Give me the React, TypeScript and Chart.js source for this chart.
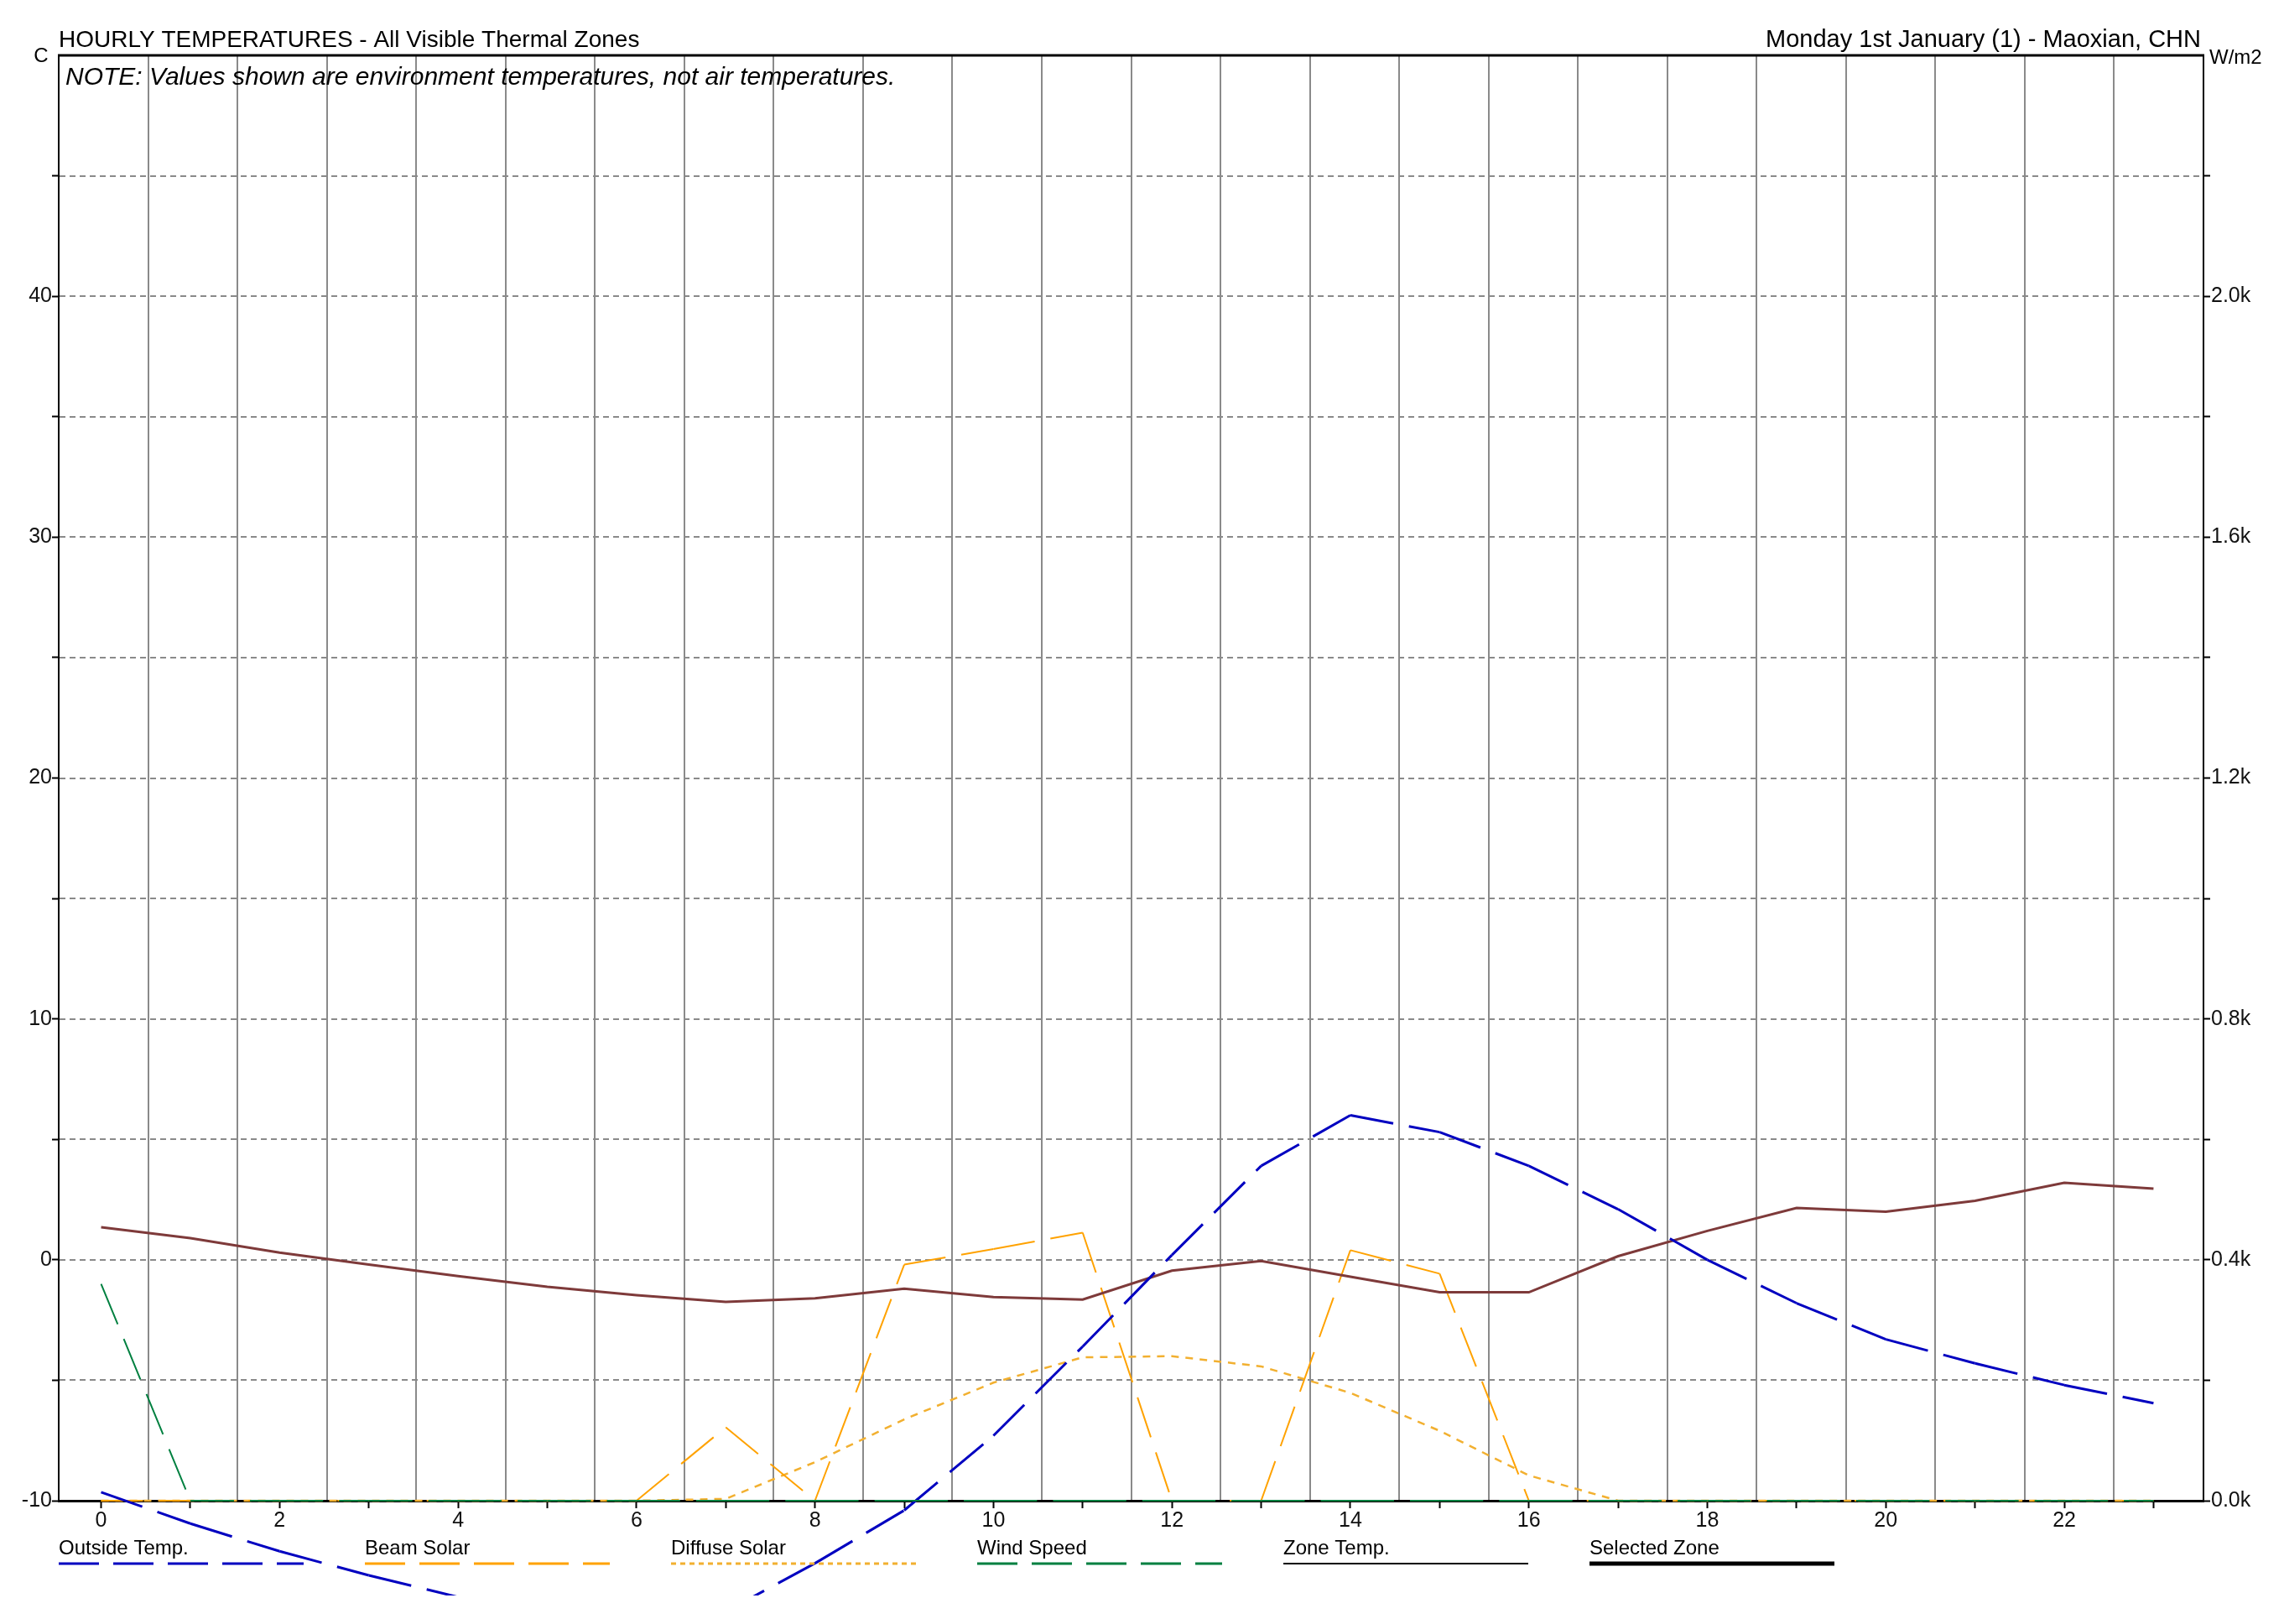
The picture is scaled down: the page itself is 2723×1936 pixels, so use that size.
import React, { useEffect, useRef } from "react";
import { Chart, registerables } from "chart.js";

Chart.register(...registerables);

const CANVAS_W = 2723;
const CANVAS_H = 1936;

// ---------- data ----------
const hours = [0, 1, 2, 3, 4, 5, 6, 7, 8, 9, 10, 11, 12, 13, 14, 15, 16, 17, 18, 19, 20, 21, 22, 23];
const outsideTemp = [-9.65, -10.95, -12.1, -13.1, -14.0, -14.5, -14.9, -14.6, -12.6, -10.4, -7.3, -3.6, 0.2, 3.9, 6.0, 5.3, 3.9, 2.1, 0.0, -1.8, -3.3, -4.3, -5.2, -5.95];
const zoneTemp = [1.35, 0.9, 0.3, -0.2, -0.68, -1.12, -1.47, -1.75, -1.6, -1.2, -1.55, -1.65, -0.45, -0.05, -0.7, -1.35, -1.35, 0.15, 1.2, 2.15, 2.0, 2.45, 3.2, 2.95];
const beamSolar = [0, 0, 0, 0, 0, 0, 0, 122, 0, 392, 418, 445, 0, 0, 416, 377, 0, 0, 0, 0, 0, 0, 0, 0];
const diffuseSolar = [0, 0, 0, 0, 0, 0, 0, 3, 64, 135, 196, 238, 240, 223, 179, 116, 42, 0, 0, 0, 0, 0, 0, 0];
const windSpeed = [9.0, 0, 0, 0, 0, 0, 0, 0, 0, 0, 0, 0, 0, 0, 0, 0, 0, 0, 0, 0, 0, 0, 0, 0];

// ---------- ticks / labels ----------
const xLabelValues = [0, 2, 4, 6, 8, 10, 12, 14, 16, 18, 20, 22];
const tempTickValues = [-10, -5, 0, 5, 10, 15, 20, 25, 30, 35, 40, 45];
const tempLabelValues = [-10, 0, 10, 20, 30, 40];
const tempGridValues = [-5, 0, 5, 10, 15, 20, 25, 30, 35, 40, 45];
const solarTickValues = [0, 200, 400, 600, 800, 1000, 1200, 1400, 1600, 1800, 2000, 2200];
const solarLabelValues = [0, 400, 800, 1200, 1600, 2000];
const solarLabelTexts = ["0.0k", "0.4k", "0.8k", "1.2k", "1.6k", "2.0k"];

const titleText = "HOURLY TEMPERATURES - All Visible Thermal Zones";
const subtitleText = "Monday 1st January (1) - Maoxian, CHN";
const noteText = "NOTE: Values shown are environment temperatures, not air temperatures.";
const leftUnit = "C";
const rightUnit = "W/m2";
const legendLabels = ["Outside Temp.", "Beam Solar", "Diffuse Solar", "Wind Speed", "Zone Temp.", "Selected Zone"];

// ---------- styles ----------
const FONT = "'Liberation Sans', Arial, Helvetica, sans-serif";
const C_OUT = "#0000C0";
const C_ZONE = "#7E3A3A";
const C_BEAM = "#FFA200";
const C_DIFF = "#F2B030";
const C_WIND = "#008040";
const legendStyles = [
  { color: C_OUT, dash: [48, 17], width: 3 },
  { color: C_BEAM, dash: [48, 17], width: 3 },
  { color: C_DIFF, dash: [6, 5], width: 3 },
  { color: C_WIND, dash: [48, 17], width: 3 },
  { color: "#000000", dash: [], width: 2 },
  { color: "#000000", dash: [], width: 5 },
];

const toXY = (arr: number[]) => hours.map((h, i) => ({ x: h, y: arr[i] }));
const restartDash = { borderDashOffset: (c: any) => (c.p0DataIndex % 2) * 0.001 };
const CLIP = { left: 4, top: 4, right: 4, bottom: 113 };

const decorPlugin = {
  id: "decor",
  beforeDatasetsDraw(chart: any) {
    const { ctx, chartArea: a, scales } = chart;
    ctx.save();
    // vertical column lines
    ctx.setLineDash([]);
    ctx.strokeStyle = "#8a8a8a";
    ctx.lineWidth = 2;
    for (let k = 1; k < 24; k++) {
      const x = Math.round(a.left + (k * (a.right - a.left)) / 24);
      ctx.beginPath();
      ctx.moveTo(x, a.top + 1);
      ctx.lineTo(x, a.bottom - 1);
      ctx.stroke();
    }
    // horizontal dashed lines
    ctx.strokeStyle = "#8a8a8a";
    ctx.lineWidth = 2;
    ctx.setLineDash([7, 5]);
    for (const v of tempGridValues) {
      const y = Math.round(scales.y.getPixelForValue(v));
      ctx.beginPath();
      ctx.moveTo(a.left + 1, y);
      ctx.lineTo(a.right - 1, y);
      ctx.stroke();
    }
    // top border
    ctx.setLineDash([]);
    ctx.strokeStyle = "#000";
    ctx.lineWidth = 3;
    ctx.beginPath();
    ctx.moveTo(a.left - 1, a.top);
    ctx.lineTo(a.right + 1, a.top);
    ctx.stroke();
    ctx.restore();
  },
  afterDraw(chart: any) {
    const { ctx, chartArea: a } = chart;
    ctx.save();
    ctx.fillStyle = "#000";
    ctx.textBaseline = "alphabetic";
    ctx.font = `28px ${FONT}`;
    ctx.textAlign = "left";
    ctx.fillText(titleText, a.left, 56);
    ctx.font = `29px ${FONT}`;
    ctx.textAlign = "right";
    ctx.fillText(subtitleText, a.right - 3, 56);
    ctx.font = `24px ${FONT}`;
    ctx.textAlign = "center";
    ctx.fillText(leftUnit, 49, 74);
    ctx.textAlign = "left";
    ctx.fillText(rightUnit, a.right + 7, 76);
    ctx.font = `italic 30px ${FONT}`;
    ctx.fillText(noteText, a.left + 8, 101);
    // legend
    const step = 365;
    const len = 292;
    legendLabels.forEach((lab, i) => {
      const x0 = a.left + i * step;
      ctx.font = `24px ${FONT}`;
      ctx.fillStyle = "#000";
      ctx.fillText(lab, x0, 1853);
      const st = legendStyles[i];
      ctx.strokeStyle = st.color;
      ctx.lineWidth = st.width;
      ctx.setLineDash(st.dash);
      ctx.beginPath();
      ctx.moveTo(x0, 1864);
      ctx.lineTo(x0 + len, 1864);
      ctx.stroke();
    });
    ctx.restore();
  },
};

export default function App() {
  const ref = useRef<HTMLCanvasElement | null>(null);
  useEffect(() => {
    if (!ref.current) return;
    const chart = new Chart(ref.current, {
      type: "line",
      data: {
        datasets: [
          {
            label: "Wind Speed",
            data: toXY(windSpeed),
            yAxisID: "yW",
            borderColor: C_WIND,
            borderWidth: 2,
            borderDash: [52, 19],
            segment: restartDash,
            pointRadius: 0,
            clip: CLIP,
          },
          {
            label: "Outside Temp.",
            data: toXY(outsideTemp),
            yAxisID: "y",
            borderColor: C_OUT,
            borderWidth: 3,
            borderDash: [52, 19],
            segment: restartDash,
            pointRadius: 0,
            clip: CLIP,
          },
          {
            label: "Zone Temp.",
            data: toXY(zoneTemp),
            yAxisID: "y",
            borderColor: C_ZONE,
            borderWidth: 3,
            pointRadius: 0,
            clip: CLIP,
          },
          {
            label: "Beam Solar",
            data: toXY(beamSolar),
            yAxisID: "yR",
            borderColor: C_BEAM,
            borderWidth: 2,
            borderDash: [50, 19],
            segment: restartDash,
            pointRadius: 0,
            clip: CLIP,
          },
          {
            label: "Diffuse Solar",
            data: toXY(diffuseSolar),
            yAxisID: "yR",
            borderColor: C_DIFF,
            borderWidth: 2.5,
            borderDash: [9, 8],
            pointRadius: 0,
            clip: CLIP,
          },
        ],
      },
      options: {
        responsive: false,
        animation: false,
        devicePixelRatio: 1,
        layout: { padding: { top: 66, left: 0, right: 0, bottom: 0 } },
        plugins: { legend: { display: false }, tooltip: { enabled: false }, title: { display: false } },
        elements: { line: { tension: 0, borderCapStyle: "butt", borderJoinStyle: "miter" } },
        scales: {
          x: {
            type: "linear",
            position: "bottom",
            min: -0.475,
            max: 23.56,
            afterBuildTicks: (s: any) => {
              s.ticks = hours.map((v) => ({ value: v }));
            },
            afterFit: (s: any) => {
              s.height = CANVAS_H - 1789;
            },
            ticks: {
              autoSkip: false,
              maxRotation: 0,
              padding: 0,
              color: "#111",
              font: { family: FONT, size: 25 },
              callback: (v: any) => (xLabelValues.includes(Number(v)) ? String(v) : ""),
            },
            grid: { drawOnChartArea: false, drawTicks: true, tickLength: 9, tickColor: "#000", tickWidth: 2 },
            border: { display: true, color: "#000", width: 3 },
          },
          y: {
            type: "linear",
            position: "left",
            min: -10,
            max: 50,
            afterBuildTicks: (s: any) => {
              s.ticks = tempTickValues.map((v) => ({ value: v }));
            },
            afterFit: (s: any) => {
              s.width = 70;
            },
            ticks: {
              autoSkip: false,
              padding: 0,
              color: "#111",
              font: { family: FONT, size: 25 },
              callback: (v: any) => (tempLabelValues.includes(Number(v)) ? String(v) : ""),
            },
            grid: { drawOnChartArea: false, drawTicks: true, tickLength: 8, tickColor: "#000", tickWidth: 2 },
            border: { display: true, color: "#000", width: 2 },
          },
          yR: {
            type: "linear",
            position: "right",
            min: 0,
            max: 2400,
            afterBuildTicks: (s: any) => {
              s.ticks = solarTickValues.map((v) => ({ value: v }));
            },
            afterFit: (s: any) => {
              s.width = CANVAS_W - 2627;
            },
            ticks: {
              autoSkip: false,
              padding: 1,
              color: "#111",
              font: { family: FONT, size: 25 },
              callback: (v: any) => {
                const idx = solarLabelValues.indexOf(Number(v));
                return idx >= 0 ? solarLabelTexts[idx] : "";
              },
            },
            grid: { drawOnChartArea: false, drawTicks: true, tickLength: 8, tickColor: "#000", tickWidth: 2 },
            border: { display: true, color: "#000", width: 2 },
          },
          yW: {
            type: "linear",
            display: false,
            min: 0,
            max: 60,
          },
        },
      } as any,
      plugins: [decorPlugin as any],
    });
    return () => chart.destroy();
  }, []);

  return (
    <div style={{ position: "fixed", left: 0, top: 0, width: CANVAS_W, height: CANVAS_H, background: "#fff" }}>
      <canvas ref={ref} width={CANVAS_W} height={CANVAS_H} style={{ display: "block", width: CANVAS_W, height: CANVAS_H }} />
    </div>
  );
}
